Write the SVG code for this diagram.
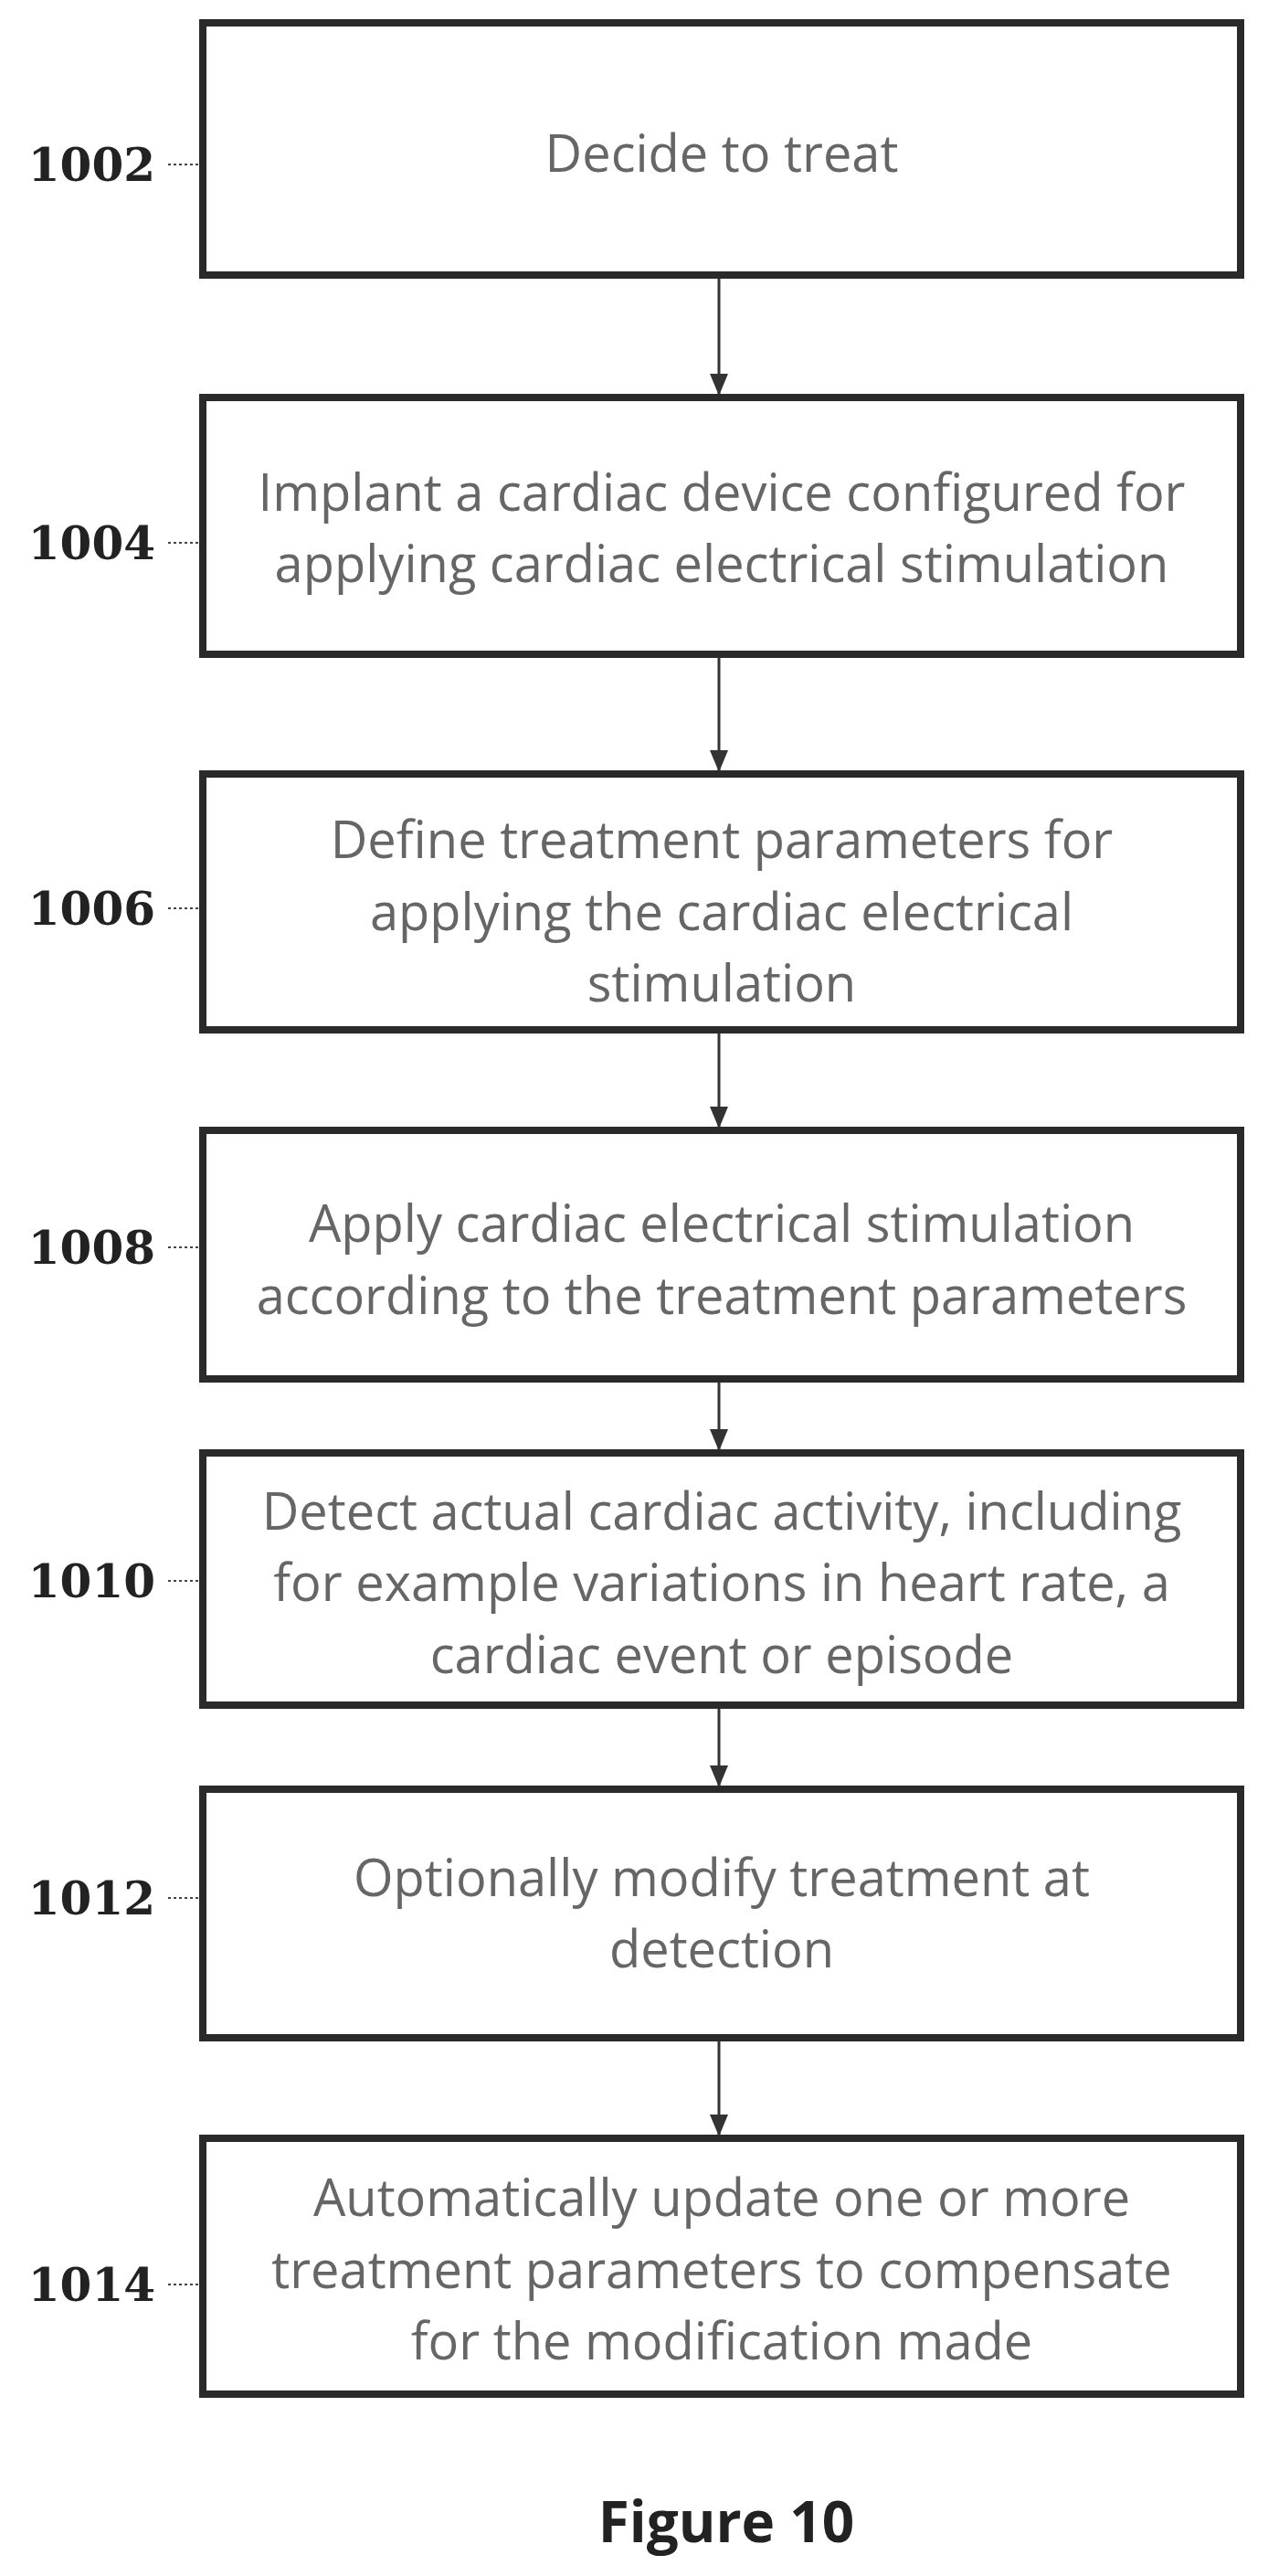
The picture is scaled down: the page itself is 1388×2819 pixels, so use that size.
<svg xmlns="http://www.w3.org/2000/svg" width="1388" height="2819" viewBox="0 0 1388 2819">
<style>
.box{fill:#fff;stroke:#2a2a2a;stroke-width:8}
.t{font-family:"Open Sans","Liberation Sans",sans-serif;font-size:56px;fill:#666;text-anchor:middle;dominant-baseline:central}
.lb{font-family:"DejaVu Serif","Liberation Serif",serif;font-weight:bold;font-size:50px;fill:#222;text-anchor:end;dominant-baseline:central}
.ld{stroke:#444;stroke-width:2;stroke-dasharray:3 3}
.c{stroke:#333;stroke-width:3;fill:none;marker-end:url(#a)}
</style>
<defs><marker id="a" markerWidth="24" markerHeight="24" refX="22" refY="12" orient="auto" markerUnits="userSpaceOnUse"><path d="M0,2L24,12L0,22z" fill="#333"/></marker></defs>
<rect width="1388" height="2819" fill="#fff"/>
<g id="connectors">
<path class="c" d="M787 305V431"/>
<path class="c" d="M787 720V843"/>
<path class="c" d="M787 1131V1233"/>
<path class="c" d="M787 1513V1586"/>
<path class="c" d="M787 1870V1954"/>
<path class="c" d="M787 2234V2336"/>
</g>
<g id="n1002"><rect class="box" x="222" y="25" width="1136" height="276"/><text class="t" x="790" y="166">Decide to treat</text><text class="lb" x="170" y="180">1002</text><line class="ld" x1="184" y1="180" x2="218" y2="180"/></g>
<g id="n1004"><rect class="box" x="222" y="435" width="1136" height="281"/><text class="t" x="790" y="537">Implant a cardiac device configured for</text><text class="t" x="790" y="615">applying cardiac electrical stimulation</text><text class="lb" x="170" y="594">1004</text><line class="ld" x1="184" y1="594" x2="218" y2="594"/></g>
<g id="n1006"><rect class="box" x="222" y="847" width="1136" height="280"/><text class="t" x="790" y="917">Define treatment parameters for</text><text class="t" x="790" y="996">applying the cardiac electrical</text><text class="t" x="790" y="1074">stimulation</text><text class="lb" x="170" y="994">1006</text><line class="ld" x1="184" y1="994" x2="218" y2="994"/></g>
<g id="n1008"><rect class="box" x="222" y="1237" width="1136" height="272"/><text class="t" x="790" y="1337">Apply cardiac electrical stimulation</text><text class="t" x="790" y="1416">according to the treatment parameters</text><text class="lb" x="170" y="1365">1008</text><line class="ld" x1="184" y1="1365" x2="218" y2="1365"/></g>
<g id="n1010"><rect class="box" x="222" y="1590" width="1136" height="276"/><text class="t" x="790" y="1652">Detect actual cardiac activity, including</text><text class="t" x="790" y="1730">for example variations in heart rate, a</text><text class="t" x="790" y="1809">cardiac event or episode</text><text class="lb" x="170" y="1730">1010</text><line class="ld" x1="184" y1="1730" x2="218" y2="1730"/></g>
<g id="n1012"><rect class="box" x="222" y="1958" width="1136" height="272"/><text class="t" x="790" y="2053">Optionally modify treatment at</text><text class="t" x="790" y="2131">detection</text><text class="lb" x="170" y="2077">1012</text><line class="ld" x1="184" y1="2077" x2="218" y2="2077"/></g>
<g id="n1014"><rect class="box" x="222" y="2340" width="1136" height="280"/><text class="t" x="790" y="2403">Automatically update one or more</text><text class="t" x="790" y="2482">treatment parameters  to compensate</text><text class="t" x="790" y="2560">for the modification made</text><text class="lb" x="170" y="2500">1014</text><line class="ld" x1="184" y1="2500" x2="218" y2="2500"/></g>
<text x="795" y="2758" font-family="Open Sans, Liberation Sans, sans-serif" font-weight="bold" font-size="62" fill="#222" text-anchor="middle" dominant-baseline="central">Figure 10</text>
</svg>
